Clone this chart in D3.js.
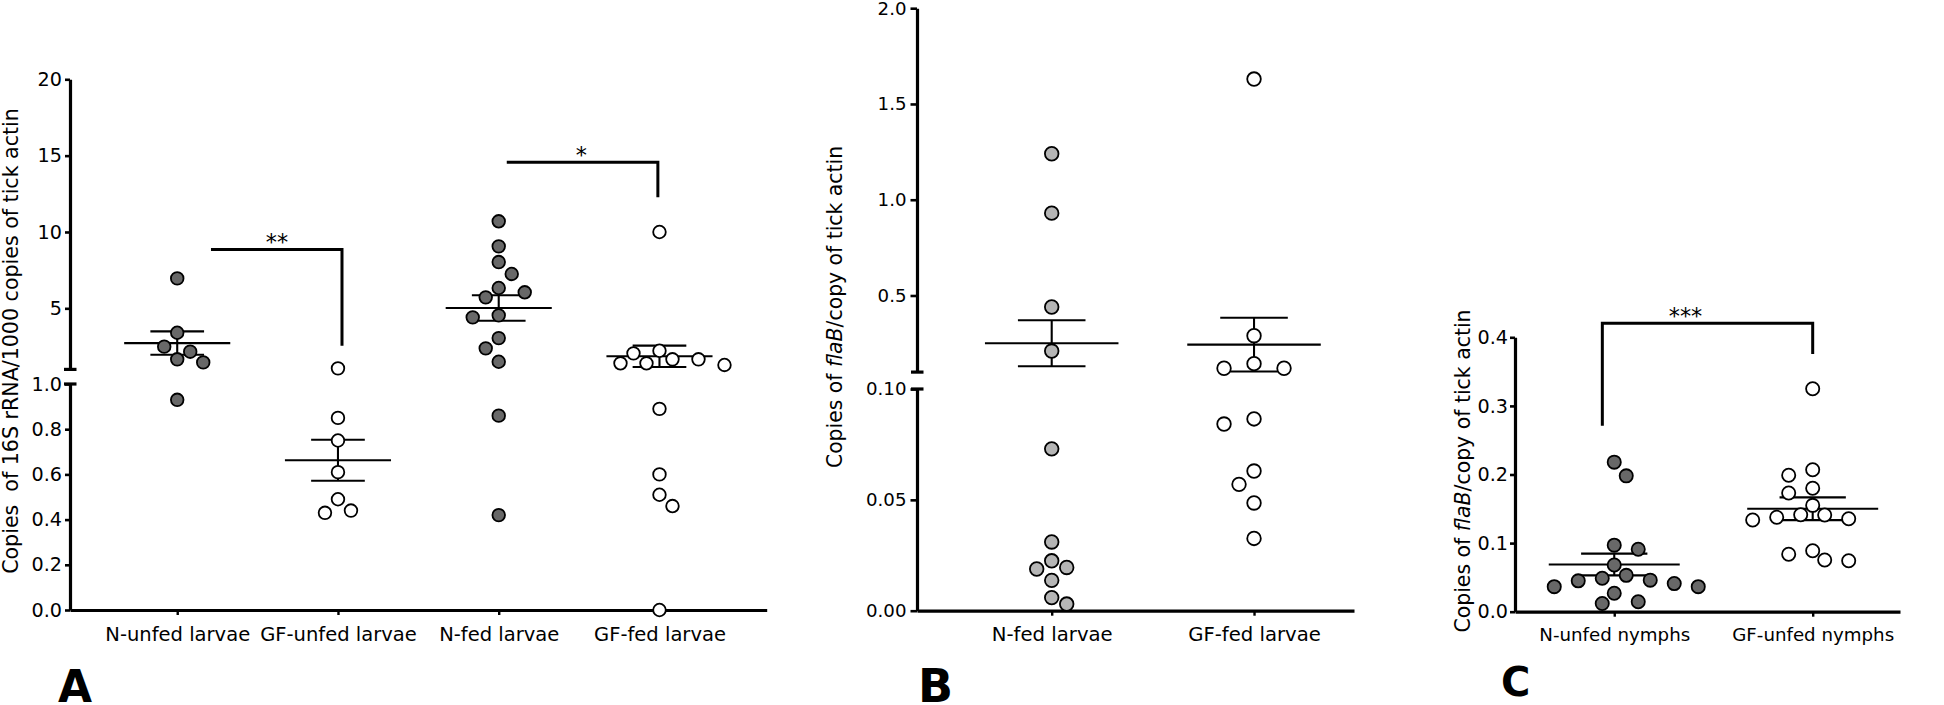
<!DOCTYPE html>
<html>
<head>
<meta charset="utf-8">
<script src="https://cdn.jsdelivr.net/npm/d3@7"></script>
<style>
  html, body { margin: 0; padding: 0; background: #fff; }
  svg { display: block; }
</style>
</head>
<body>
<svg id="chart" width="1944" height="705"></svg>
<script>
// ---------------- DATA ----------------
// Panel A
const aCategories = ["N-unfed larvae", "GF-unfed larvae", "N-fed larvae", "GF-fed larvae"];
const aNUnfedLarvae = [6.96, 3.40, 2.49, 2.16, 1.66, 1.46, 0.93];
const aGFUnfedLarvae = [1.07, 0.85, 0.75, 0.61, 0.49, 0.43, 0.44];
const aNFedLarvae = [10.7, 9.06, 8.03, 7.25, 6.33, 6.05, 5.72, 4.54, 4.41, 3.05, 2.38, 1.50, 0.86, 0.42];
const aGFFedLarvae = [10.0, 2.22, 2.05, 1.66, 1.66, 1.40, 1.40, 1.29, 0.89, 0.60, 0.51, 0.46, 0.0];
const aUpperTicks = [5, 10, 15, 20];
const aLowerTicks = [0, 0.2, 0.4, 0.6, 0.8, 1.0];
const aBreak = 1;
const aTitle = "Copies  of 16S rRNA/1000 copies of tick actin";

// Panel B
const bCategories = ["N-fed larvae", "GF-fed larvae"];
const bNFedLarvae = [1.24, 0.93, 0.44, 0.21, 0.073, 0.031, 0.0225, 0.0195, 0.0188, 0.0137, 0.0059, 0.003];
const bGFFedLarvae = [1.63, 0.29, 0.12, 0.12, 0.144, 0.0865, 0.0842, 0.063, 0.057, 0.0486, 0.0326];
const bUpperTicks = [0.5, 1.0, 1.5, 2.0];
const bLowerTicks = [0, 0.05, 0.10];
const bBreak = 0.1;

// Panel C
const cCategories = ["N-unfed nymphs", "GF-unfed nymphs"];
const cNUnfedNymphs = [0.218, 0.198, 0.097, 0.091, 0.068, 0.053, 0.0487, 0.046, 0.045, 0.041, 0.0365, 0.0365, 0.0268, 0.0146, 0.012];
const cGFUnfedNymphs = [0.325, 0.207, 0.199, 0.180, 0.173, 0.155, 0.141, 0.1414, 0.1376, 0.1356, 0.1337, 0.0889, 0.0837, 0.0754, 0.0743];
const cTicks = [0, 0.1, 0.2, 0.3, 0.4];
const flaBTitle = [{ s: "Copies of " }, { s: "flaB", it: true }, { s: "/copy of tick actin" }];

// significance annotations: category index (+ fraction of step) and data values
const aSignif = [
  { label: "**", from: 0.21, to: 1.025, top: 8.86, endFrom: null, endTo: 2.55, at: 0.62 },
  { label: "*",  from: 2.05, to: 2.99,  top: 14.56, endFrom: null, endTo: 12.27, at: 2.514 }
];
const cSignif = [
  { label: "***", from: -0.06, to: 1.0, top: 0.4205, endFrom: 0.271, endTo: 0.3757, at: 0.359 }
];

// ---------------- DRAWING ----------------
const FAMILY = "DejaVu Sans, Verdana, sans-serif";
const svg = d3.select("#chart");

// font size that makes a string reach a given width
function fitSize(str, target, weight) {
  const t = svg.append("text").attr("font-family", FAMILY).attr("font-size", 100)
    .attr("font-weight", weight || "normal").style("white-space", "pre").text(str);
  const w = t.node().getComputedTextLength();
  t.remove();
  return 100 * target / w;
}
function setFont(sel, size, weight) {
  sel.attr("font-family", FAMILY).attr("font-size", size).attr("font-weight", weight || "normal").attr("fill", "#000");
}

const starSize = fitSize("***", 33.5);

function swarm(values, yFn, cx, u, D) {
  const order = values.map((v, i) => i).sort((a, b) => yFn(values[a]) - yFn(values[b]));
  const placed = [];
  const out = new Array(values.length);
  order.forEach((i, n) => {
    const y = yFn(values[i]);
    const s = n % 2 ? [1, -1] : [-1, 1];
    const cands = [0];
    for (let k = 1; k < 15; k++) cands.push(s[0] * k * u, s[1] * k * u);
    for (const dx of cands) {
      if (placed.every(p => Math.hypot(p.dx - dx, p.y - y) >= D)) {
        placed.push({ dx, y });
        out[i] = { x: cx + dx, y, v: values[i] };
        break;
      }
    }
  });
  return out;
}

function drawPanel(cfg) {
  const g = svg.append("g");
  const x = d3.scalePoint().domain(cfg.cats).range([cfg.x0, cfg.x1]).padding(cfg.pad).align(cfg.align);
  const step = x.step();
  const xi = t => {
    const i = Math.max(0, Math.min(cfg.cats.length - 1, Math.floor(t)));
    return x(cfg.cats[i]) + (t - i) * step;
  };
  const segs = cfg.segs.map(s => Object.assign({}, s, { scale: d3.scaleLinear().domain(s.domain).range(s.range) }));
  const y = v => {
    for (const s of segs) if (v >= s.domain[0] && v <= s.domain[1]) return s.scale(v);
    return v < segs[0].domain[0] ? segs[0].scale(v) : segs[segs.length - 1].scale(v);
  };

  const tickSize = fitSize(cfg.tickRef, cfg.tickRefW);
  const xLabSize = fitSize(cfg.cats[0], cfg.xRefW);

  // y axis segments
  segs.forEach(s => {
    const ax = d3.axisLeft(s.scale).tickValues(s.ticks).tickFormat(d3.format(s.fmt))
      .tickSize(cfg.tickLen).tickSizeOuter(0).tickPadding(cfg.tickPad);
    const ag = g.append("g").attr("transform", `translate(${cfg.x0},0)`).call(ax);
    ag.select(".domain").attr("stroke", "#000").attr("stroke-width", 3.2);
    ag.selectAll(".tick line").attr("stroke", "#000").attr("stroke-width", 2.6);
    setFont(ag.selectAll(".tick text"), tickSize);
  });
  // break bars
  if (segs.length > 1) {
    const bv = segs[0].domain[1];
    [segs[0].scale(bv), segs[1].scale(bv)].forEach(yy => {
      g.append("line").attr("x1", cfg.x0 - 6).attr("x2", cfg.x0 + 6.5)
        .attr("y1", yy).attr("y2", yy).attr("stroke", "#000").attr("stroke-width", 3.2);
    });
  }

  // x axis
  const xa = d3.axisBottom(x).tickSize(5).tickSizeOuter(0).tickPadding(cfg.xPad);
  const xg = g.append("g").attr("transform", `translate(0,${segs[0].range[0]})`).call(xa);
  xg.select(".domain").attr("stroke", "#000").attr("stroke-width", 3.2);
  xg.selectAll(".tick line").attr("stroke", "#000").attr("stroke-width", 2.4);
  setFont(xg.selectAll(".tick text"), xLabSize);

  // mean +/- SEM
  cfg.groups.forEach((vals, i) => {
    const cx = x(cfg.cats[i]);
    const m = d3.mean(vals);
    const se = d3.deviation(vals) / Math.sqrt(vals.length);
    const lg = g.append("g").attr("stroke", "#000").attr("stroke-width", 2.1);
    lg.append("line").attr("x1", cx - 0.33 * step).attr("x2", cx + 0.33 * step).attr("y1", y(m)).attr("y2", y(m));
    [m + se, m - se].forEach(v => lg.append("line").attr("x1", cx - 0.167 * step).attr("x2", cx + 0.167 * step)
      .attr("y1", y(v)).attr("y2", y(v)));
    lg.append("line").attr("x1", cx).attr("x2", cx).attr("y1", y(m + se)).attr("y2", y(m - se));
  });

  // points
  cfg.groups.forEach((vals, i) => {
    const pts = swarm(vals, y, x(cfg.cats[i]), cfg.slot, cfg.coll);
    g.append("g").selectAll("circle").data(pts).join("circle")
      .attr("cx", d => d.x).attr("cy", d => d.y).attr("r", cfg.r)
      .attr("fill", cfg.fills[i]).attr("stroke", "#000").attr("stroke-width", 1.8);
  });

  // significance brackets
  (cfg.signif || []).forEach(b => {
    const xa1 = xi(b.from), xb1 = xi(b.to), yt = y(b.top);
    let p = b.endFrom != null ? `M${xa1},${y(b.endFrom)}V${yt}` : `M${xa1},${yt}`;
    p += `H${xb1}`;
    if (b.endTo != null) p += `V${y(b.endTo)}`;
    g.append("path").attr("d", p).attr("fill", "none").attr("stroke", "#000").attr("stroke-width", 3);
    setFont(g.append("text").attr("x", xi(b.at)).attr("y", yt + 1).attr("text-anchor", "middle").text(b.label), starSize);
  });

  // y title
  const titleStr = cfg.title.map(p => p.s).join("");
  const titleSize = fitSize(titleStr, cfg.titleW);
  const t = g.append("text").attr("transform", `translate(${cfg.titleX},${cfg.titleY}) rotate(-90)`)
    .attr("text-anchor", "middle").style("white-space", "pre");
  setFont(t, titleSize);
  cfg.title.forEach(part => t.append("tspan").attr("font-style", part.it ? "italic" : "normal").text(part.s));

  // panel letter
  setFont(g.append("text").attr("x", cfg.letterX).attr("y", cfg.letterY).text(cfg.letter), cfg.letterSize, "bold");
}

const darkFill = "#686868", lightFill = "#b5b5b5", white = "#ffffff";

drawPanel({
  cats: aCategories, x0: 70, x1: 766.7, pad: 0.667, align: 0.5,
  segs: [
    { domain: [0, aBreak], range: [610, 384], ticks: aLowerTicks, fmt: ".1f" },
    { domain: [aBreak, 20], range: [369.4, 79.3], ticks: aUpperTicks, fmt: "d" }
  ],
  tickLen: 5, tickPad: 3, tickRef: "0.0", tickRefW: 30.5,
  xPad: 12.5, xRefW: 145,
  groups: [aNUnfedLarvae, aGFUnfedLarvae, aNFedLarvae, aGFFedLarvae],
  fills: [darkFill, white, darkFill, white],
  r: 6.3, slot: 13, coll: 15,
  signif: aSignif,
  title: [{ s: aTitle }], titleW: 466, titleX: 18, titleY: 341,
  letter: "A", letterX: 58, letterY: 702, letterSize: 44
});

drawPanel({
  cats: bCategories, x0: 917, x1: 1354, pad: 0.58, align: 0.574,
  segs: [
    { domain: [0, bBreak], range: [610.7, 389], ticks: bLowerTicks, fmt: ".2f" },
    { domain: [bBreak, 2.0], range: [372.1, 8.2], ticks: bUpperTicks, fmt: ".1f" }
  ],
  tickLen: 6.5, tickPad: 4, tickRef: "0.10", tickRefW: 40.5,
  xPad: 11.5, xRefW: 121,
  groups: [bNFedLarvae, bGFFedLarvae],
  fills: [lightFill, white],
  r: 6.8, slot: 15, coll: 16,
  title: flaBTitle, titleW: 322, titleX: 842, titleY: 307,
  letter: "B", letterX: 918, letterY: 702, letterSize: 46
});

drawPanel({
  cats: cCategories, x0: 1515, x1: 1900, pad: 0.47, align: 0.532,
  segs: [
    { domain: [0, 0.4], range: [611.7, 337.3], ticks: cTicks, fmt: ".1f" }
  ],
  tickLen: 5, tickPad: 2, tickRef: "0.0", tickRefW: 30.5,
  xPad: 11.5, xRefW: 151,
  groups: [cNUnfedNymphs, cGFUnfedNymphs],
  fills: [darkFill, white],
  r: 6.6, slot: 12, coll: 15,
  signif: cSignif,
  title: flaBTitle, titleW: 323, titleX: 1470, titleY: 471,
  letter: "C", letterX: 1501, letterY: 696, letterSize: 40
});
</script>
</body>
</html>
